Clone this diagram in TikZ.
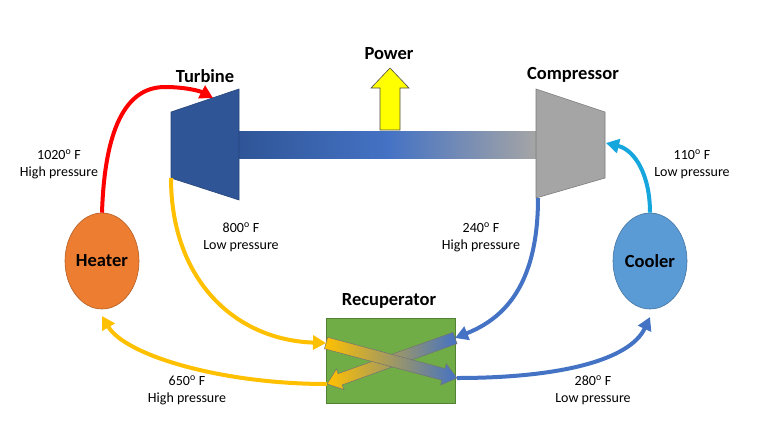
\documentclass[tikz,border=0pt]{standalone}
\usepackage{fontspec}
\setmainfont{Carlito}
\usetikzlibrary{shapes.geometric,arrows.meta,calc}
\definecolor{cRed}{HTML}{FF0000}
\definecolor{cYel}{HTML}{FFC000}
\definecolor{cBlue}{HTML}{4472C4}
\definecolor{cCyan}{HTML}{14A6DC}
\definecolor{cHeat}{HTML}{ED7D31}
\definecolor{cCool}{HTML}{5B9BD5}
\definecolor{cGreen}{HTML}{70AD47}
\definecolor{cTurb}{HTML}{2F5597}
\definecolor{cGray}{HTML}{A5A5A5}
\definecolor{cPow}{HTML}{FFFF00}
\tikzset{
  flow/.style={line width=4pt,-{Triangle[length=13pt,width=14pt]}},
  lbl/.style={font=\fontsize{18.5}{22}\selectfont\bfseries},
  note/.style={font=\fontsize{14}{17}\selectfont,align=center},
  unit/.style={ellipse,minimum width=74pt,minimum height=96pt,inner sep=0pt,line width=0.6pt,lbl},
}
\newcommand{\recarrow}[2]{%
  \coordinate (hb) at ($(#2)!14pt!(#1)$);
  \shadedraw[left color=cYel,right color=cBlue,draw=black!55,line width=0.5pt]
    ($(#1)!6pt!90:(#2)$) -- ($(hb)!6pt!-90:(#1)$) -- ($(hb)!11pt!-90:(#1)$) -- (#2)
    -- ($(hb)!11pt!90:(#1)$) -- ($(hb)!6pt!90:(#1)$) -- ($(#1)!6pt!-90:(#2)$) -- cycle;}
\begin{document}
\begin{tikzpicture}[x=1pt,y=-1pt]
\useasboundingbox[fill=white] (0,0) rectangle (768,432);

% shaft
\shade[left color=cTurb,right color=cGray,middle color=cBlue] (239,131) rectangle (536,158);
% turbine
\filldraw[fill=cTurb,draw=cTurb!80!black,line width=0.6pt] (171,112) -- (239,89) -- (239,200) -- (171,178) -- cycle;
% compressor
\filldraw[fill=cGray,draw=cGray!75!black,line width=0.6pt] (536,89) -- (605,112) -- (605,178) -- (536,198) -- cycle;
% power arrow
\filldraw[fill=cPow,draw=black!70,line width=0.6pt] (380,130) -- (380,88) -- (371,88) -- (390,68) -- (409,88) -- (400,88) -- (400,130) -- cycle;

\coordinate (turbIn) at (213,98);
\coordinate (turbOut) at (171,178);
\coordinate (compOut) at (538,198);
\coordinate (compIn) at (606,143);
\coordinate (recInL) at (326,343);
\coordinate (recOutR) at (457,378);
\coordinate (recInR) at (455,338);
\coordinate (recOutL) at (327,384);
\coordinate (heatIn) at (102,316);
\coordinate (coolIn) at (650,317);

% units
\node[unit,fill=cHeat,draw=cHeat!75!black] (heater) at (102,261) {Heater};
\node[unit,fill=cCool,draw=cCool!75!black] (cooler) at (650,261) {Cooler};
\node[rectangle,fill=cGreen,draw=cGreen!75!black,line width=0.6pt,minimum width=129pt,minimum height=85pt,inner sep=0pt] (recup) at (390.5,360.5) {};

% internal crossing arrows
\recarrow{recInR}{recOutL}
\recarrow{recInL}{recOutR}

% titles
\node[lbl] (tTurb) at (205,76) {Turbine};
\node[lbl] (tComp) at (573,75) {Compressor};
\node[lbl] (tPow) at (389,54) {Power};
\node[lbl] (tRec) at (389,301) {Recuperator};

% connectors
\draw[flow,cRed] (heater.north) .. controls (105,120) and (130,87) .. (165,87) .. controls (185,87) and (200,91) .. (turbIn);
\draw[flow,cYel] (turbOut) .. controls (171,280) and (235,340) .. (recInL);
\draw[flow,cYel] (recOutL) .. controls (220,384) and (125,355) .. (heatIn);
\draw[flow,cBlue] (compOut) .. controls (538,290) and (500,320) .. (recInR);
\draw[flow,cBlue] (recOutR) .. controls (560,378) and (630,360) .. (coolIn);
\draw[flow,cCyan] (cooler.north) .. controls (650,175) and (635,150) .. (compIn);

% notes
\node[note] (n1) at (59,164) {1020\textsuperscript{o} F\\High pressure};
\node[note] (n2) at (241,237) {800\textsuperscript{o} F\\Low pressure};
\node[note] (n3) at (481,237) {240\textsuperscript{o} F\\High pressure};
\node[note] (n4) at (692,164) {110\textsuperscript{o} F\\Low pressure};
\node[note] (n5) at (187,390) {650\textsuperscript{o} F\\High pressure};
\node[note] (n6) at (593,390) {280\textsuperscript{o} F\\Low pressure};
\end{tikzpicture}
\end{document}
